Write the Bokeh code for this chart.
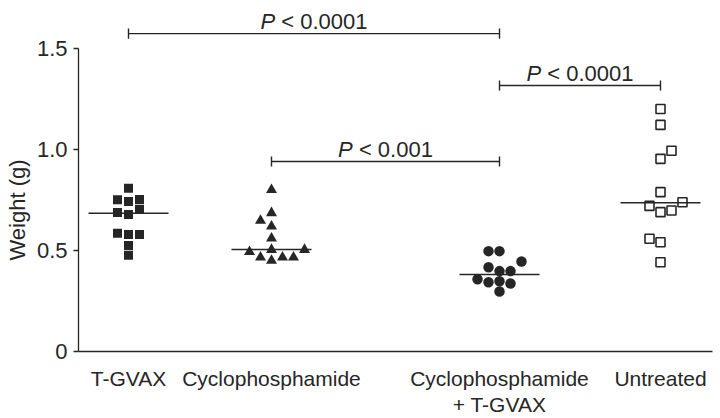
import numpy as np
from bokeh.plotting import figure
from bokeh.models import Range1d, Label, FixedTicker, Title
from bokeh.embed import file_html
from bokeh.resources import INLINE

# ---- data (weights in g) ----
groups = ["T-GVAX", "Cyclophosphamide", "Cyclophosphamide\n+ T-GVAX", "Untreated"]
tgvax = [0.808, 0.752, 0.743, 0.753, 0.704, 0.688, 0.678, 0.586, 0.579, 0.579, 0.525, 0.477]
cyclo = [0.801, 0.686, 0.648, 0.620, 0.560, 0.494, 0.504, 0.504, 0.466, 0.450, 0.466, 0.466]
combo = [0.497, 0.497, 0.446, 0.417, 0.398, 0.398, 0.358, 0.343, 0.348, 0.337, 0.297]
untreated = [1.201, 1.122, 0.994, 0.954, 0.789, 0.721, 0.739, 0.690, 0.698, 0.558, 0.541, 0.442]
medians = [0.685, 0.505, 0.381, 0.736]
y_ticks = [0, 0.5, 1.0, 1.5]
y_tick_labels = ["0", "0.5", "1.0", "1.5"]
comparisons = [(0, 2, "< 0.0001"), (1, 2, "< 0.001"), (2, 3, "< 0.0001")]

# ---- layout (horizontal placement of the columns and point columns) ----
group_x = [50, 193, 421, 582]
slots = [
    [0, -1, 0, 1, 1, -1, 0, -1, 0, 1, 0, 0],
    [0, 0, -1, 0, 0, -2, 0, 3, -1, 0, 1, 2],
    [-1, 0, 2, -1, 0, 1, -2, -1, 0, 1, 0],
    [0, 0, 1, 0, 0, -1, 2, 0, 1, -1, 0, 0],
]
slot_w = 11
bracket_y = [1.574, 0.941, 1.317]
half_w = 40

FONT = "Liberation Sans"
FS = 22     # tick labels, P values, y title
FSX = 21    # category labels
INK = "#262626"

p = figure(width=720, height=418, output_backend="svg", toolbar_location=None,
           x_range=Range1d(0, 634), y_range=Range1d(0, 1.738),
           min_border_left=78, min_border_right=8, min_border_top=0, min_border_bottom=67)
p.outline_line_color = None
p.grid.visible = False
p.background_fill_color = "white"

# y axis
ya = p.yaxis[0]
ya.ticker = FixedTicker(ticks=y_ticks)
ya.major_label_overrides = {t: l for t, l in zip(y_ticks, y_tick_labels)}
ya.bounds = (0, 1.5)
ya.minor_tick_line_color = None
ya.major_tick_in = 0
ya.major_tick_out = 5
ya.major_label_standoff = 6
ya.axis_line_color = INK
ya.major_tick_line_color = INK
ya.axis_line_width = 1.3
ya.major_tick_line_width = 1.3
ya.major_label_text_font = FONT
ya.major_label_text_font_size = f"{FS}px"
ya.major_label_text_color = INK

# x axis
xa = p.xaxis[0]
xa.ticker = FixedTicker(ticks=group_x)
xa.major_label_overrides = {gx: g for gx, g in zip(group_x, groups)}
xa.minor_tick_line_color = None
xa.major_tick_line_color = None
xa.major_tick_in = 0
xa.major_tick_out = 0
xa.major_label_standoff = 15
xa.axis_line_color = INK
xa.axis_line_width = 1.3
xa.major_label_text_font = FONT
xa.major_label_text_font_size = f"{FSX}px"
xa.major_label_text_color = INK
xa.major_label_text_line_height = 1.15

series = [tgvax, cyclo, combo, untreated]
for i, vals in enumerate(series):
    xs = [group_x[i] + s * slot_w for s in slots[i]]
    if i == 0:
        p.scatter(xs, vals, marker="square", size=9, fill_color=INK, line_color=None)
    elif i == 1:
        p.scatter(xs, vals, marker="triangle", size=11, fill_color=INK, line_color=None)
    elif i == 2:
        p.scatter(xs, vals, marker="circle", size=10.5, fill_color=INK, line_color=None)
    else:
        p.scatter(xs, vals, marker="square", size=9, fill_color="white", line_color=INK, line_width=1.6)

# median lines
p.segment(x0=[g - half_w for g in group_x], x1=[g + half_w for g in group_x],
          y0=medians, y1=medians, line_color=INK, line_width=1.5)

# significance brackets
tick_h = 0.025
for (a, b, txt), hy in zip(comparisons, bracket_y):
    xa0, xb0 = group_x[a], group_x[b]
    p.segment(x0=[xa0, xa0, xb0], x1=[xb0, xa0, xb0],
              y0=[hy, hy - tick_h, hy - tick_h], y1=[hy, hy + tick_h, hy + tick_h],
              line_color=INK, line_width=1.4)
    cx = (xa0 + xb0) / 2
    w_p = 0.667 * FS
    w_sp = 0.278 * FS
    w_rest = (0.584 + 0.278 + 0.556 * (len(txt) - 3) + 0.278) * FS
    total = w_p + w_sp + w_rest
    split = -total / 2 + w_p
    p.add_layout(Label(x=cx, y=hy, x_offset=split, y_offset=12, text="P",
                       text_font=FONT, text_font_size=f"{FS}px", text_font_style="italic",
                       text_color=INK, text_align="right", text_baseline="alphabetic"))
    p.add_layout(Label(x=cx, y=hy, x_offset=split + w_sp, y_offset=12, text=txt,
                       text_font=FONT, text_font_size=f"{FS}px",
                       text_color=INK, text_align="left", text_baseline="alphabetic"))

# y axis title
ytitle = Title(text="Weight (g)", align="left", vertical_align="top", offset=91, standoff=4,
               text_font=FONT, text_font_size=f"{FS}px", text_font_style="normal",
               text_color=INK)
p.add_layout(ytitle, "left")

open("out.html", "w").write(file_html(p, INLINE))
